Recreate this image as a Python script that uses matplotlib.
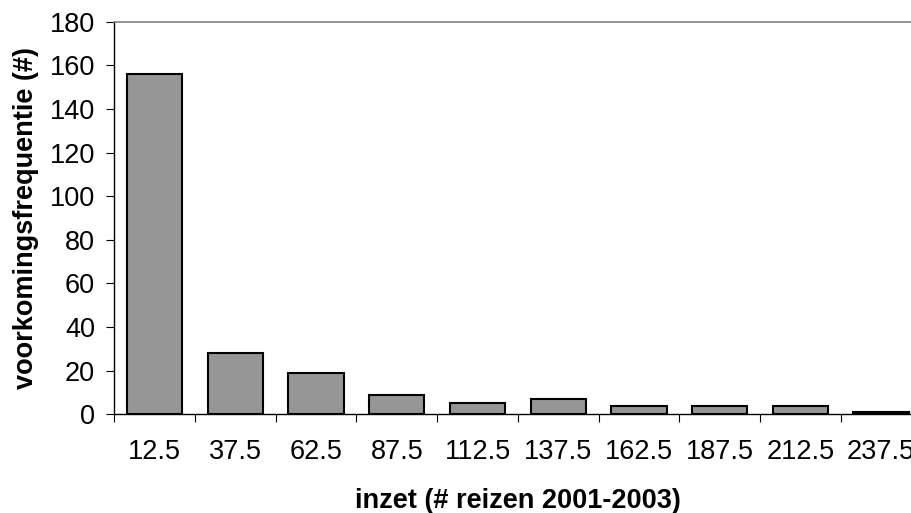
import numpy as np
import matplotlib.pyplot as plt

plt.rcParams['font.family'] = ['Liberation Sans', 'DejaVu Sans']

categories = ['12.5', '37.5', '62.5', '87.5', '112.5', '137.5', '162.5', '187.5', '212.5', '237.5']
counts = [156, 28, 19, 9, 5, 7, 4, 4, 4, 1]

fig = plt.figure(figsize=(9.11, 5.13), dpi=100)
# plot area runs past the right edge of the image, like the original
ax = fig.add_axes([0.1255, 0.1924, 0.886, 0.7653])

x = np.arange(len(categories))
ax.bar(x, counts, width=0.685, color='#969696', edgecolor='black', linewidth=1.5, zorder=3)

ax.set_xlim(-0.5, len(categories) - 0.5)
ax.set_ylim(0, 180)
ax.set_yticks(range(0, 181, 20))

# labels in the middle, tick marks on the category borders
ax.set_xticks(x)
ax.set_xticklabels(categories)
ax.set_xticks(np.arange(-0.5, len(categories)), minor=True)
ax.tick_params(axis='x', which='major', length=0, pad=18, labelsize=19.5)
ax.tick_params(axis='x', which='minor', length=6, width=0.8, direction='out')
ax.tick_params(axis='y', length=6, width=0.8, direction='out', pad=8, labelsize=19.5)

for side in ['top', 'right']:
    ax.spines[side].set_color('#808080')
    ax.spines[side].set_linewidth(1.2)
ax.spines['left'].set_linewidth(1.0)
ax.spines['bottom'].set_linewidth(1.0)

ax.set_xlabel('inzet (# reizen 2001-2003)', fontsize=19.5, fontweight='bold', labelpad=16)
ax.set_ylabel('voorkomingsfrequentie (#)', fontsize=19.5, fontweight='bold', labelpad=8)
ax.yaxis.set_label_coords(-0.1255 + 26 / 807, 0.5)

plt.savefig('out.png', dpi=100)
